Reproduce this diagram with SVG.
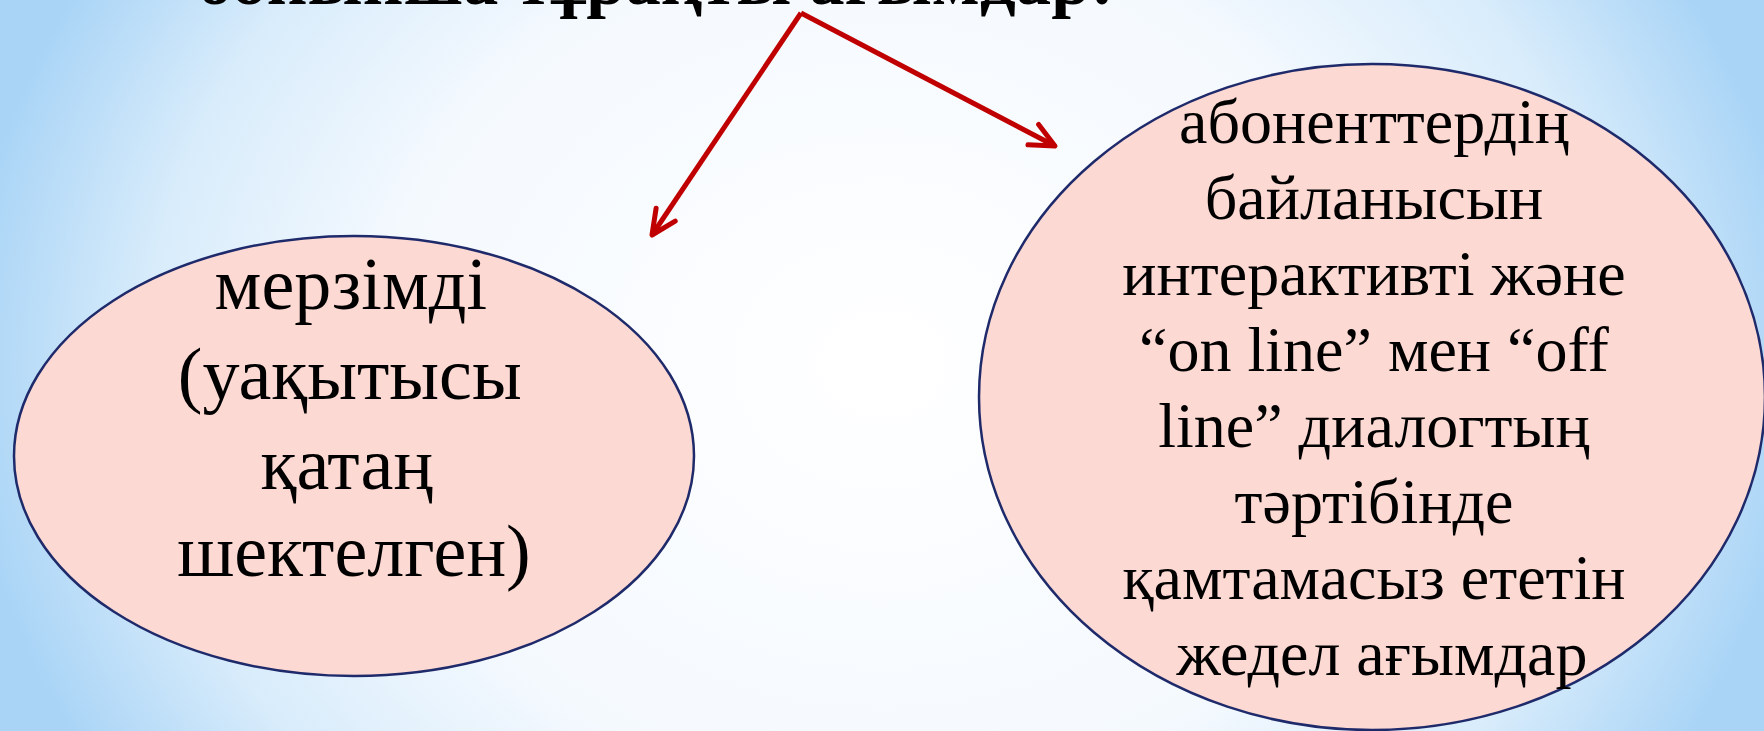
<svg xmlns="http://www.w3.org/2000/svg" width="1764" height="731" viewBox="0 0 1764 731">
  <defs>
    <radialGradient id="bg" gradientUnits="userSpaceOnUse" cx="882" cy="365" r="920" gradientTransform="translate(882 365) scale(1 0.85) translate(-882 -365)">
      <stop offset="0" stop-color="#ffffff"/>
      <stop offset="0.55" stop-color="#f4f9fe"/>
      <stop offset="0.8" stop-color="#d8ecfb"/>
      <stop offset="1" stop-color="#a9d4f6"/>
    </radialGradient>
    <marker id="arr" markerUnits="userSpaceOnUse" markerWidth="40" markerHeight="40" viewBox="-30 -20 40 40" refX="0" refY="0" orient="auto">
      <path d="M -24.5 -11.5 L 0 0 L -24.5 11.5" fill="none" stroke="#c00000" stroke-width="5" stroke-linecap="round" stroke-linejoin="round"/>
    </marker>
    <style>
      .node { fill: #fcd9d3; stroke: #1f2a6b; stroke-width: 2.5; }
      .t { font-family: "Liberation Serif", "Times New Roman", serif; fill: #000; text-anchor: middle; }
      .title { font-family: "Liberation Serif", "Times New Roman", serif; font-weight: bold; fill: #000; }
      .conn { fill: none; stroke: #c00000; stroke-width: 5; stroke-linejoin: miter; }
    </style>
  </defs>
  <rect width="1764" height="731" fill="url(#bg)"/>

  <g id="title">
    <text class="title" x="197" y="4" font-size="72" textLength="917" lengthAdjust="spacingAndGlyphs">бойынша тұрақты ағымдар:</text>
  </g>

  <g id="connectors">
    <path class="conn" d="M 801 13 L 652 235" marker-end="url(#arr)"/>
    <path class="conn" d="M 801 13 L 1055 146" marker-end="url(#arr)"/>
  </g>

  <g id="node-left">
    <ellipse class="node" cx="354" cy="456" rx="340" ry="220"/>
    <text class="t" font-size="74">
      <tspan x="360" y="309">мерзімді</tspan>
      <tspan x="359" y="399">(уақытысы</tspan>
      <tspan x="356" y="489">қатаң</tspan>
      <tspan x="354" y="576">шектелген)</tspan>
    </text>
  </g>

  <g id="node-right">
    <ellipse class="node" cx="1372" cy="397" rx="393" ry="333"/>
    <text class="t" font-size="64">
      <tspan x="1382" y="143">абоненттердің</tspan>
      <tspan x="1382" y="219">байланысын</tspan>
      <tspan x="1382" y="295">интерактивті және</tspan>
      <tspan x="1382" y="371">“on line” мен “off</tspan>
      <tspan x="1382" y="447">line” диалогтың</tspan>
      <tspan x="1382" y="523">тәртібінде</tspan>
      <tspan x="1382" y="599">қамтамасыз ететін</tspan>
      <tspan x="1382" y="675">жедел ағымдар</tspan>
    </text>
  </g>
</svg>
